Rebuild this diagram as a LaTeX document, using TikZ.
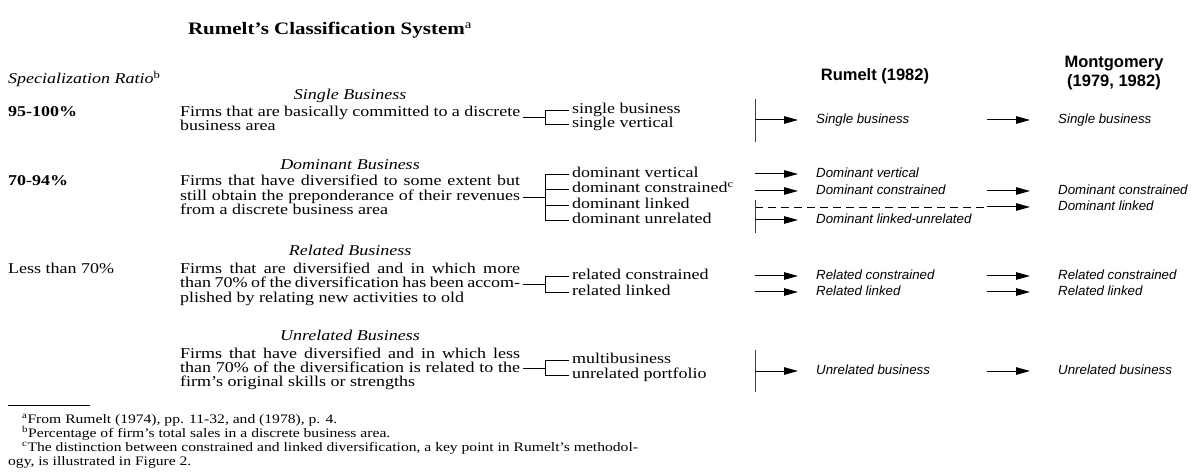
\documentclass[tikz,border=0pt]{standalone}
\usepackage{fontspec}
\setmainfont{Liberation Serif}[FakeStretch=1.2]
\setsansfont{Liberation Sans}
\usetikzlibrary{arrows.meta}

\newcommand{\bodysize}{\fontsize{15}{14.5}\selectfont}
\newcommand{\notesize}{\fontsize{13}{14}\selectfont}
\newcommand{\jline}[1]{\makebox[340pt][s]{#1}}

\begin{document}
\begin{tikzpicture}[x=1pt, y=-1pt,
    txt/.style={inner sep=0pt, anchor=base west, text height=10pt, text depth=3pt, font=\bodysize},
    hd/.style={inner sep=0pt, anchor=base, font=\itshape\bodysize},
    fn/.style={inner sep=0pt, anchor=base west, font=\notesize},
    rtxt/.style={inner sep=0pt, anchor=west, text height=10pt, text depth=3pt, font=\sffamily\itshape\fontsize{13.3}{15}\selectfont},
    col/.style={inner sep=0pt, align=center, font=\sffamily\bfseries\fontsize{16.5}{19}\selectfont},
    brk/.style={line width=0.9pt},
    bar/.style={line width=1pt, black!75},
    arr/.style={line width=1pt, -{Triangle[length=14pt,width=7.5pt]}, shorten >=18pt},
    marr/.style={arr, shorten >=28pt}]

    \useasboundingbox (0,0) rectangle (1195,473);
    \coordinate (brx) at (545,0);

    % Title and column heads
    \node[inner sep=0pt, anchor=base, font=\bfseries\fontsize{17.5}{20}\selectfont] (title) at (330,35) {Rumelt’s Classification System\textsuperscript{\mdseries a}};
    \node[txt, font=\itshape\bodysize] (ratio) at (8,84) {Specialization Ratio\textsuperscript{\upshape b}};
    \node[col] (rhead) at (875,76) {Rumelt (1982)};
    \node[col] (mhead) at (1114,73) {Montgomery\\(1979, 1982)};

    % Single business
    \node[hd] (hsg) at (350,100) {Single Business};
    \node[txt, font=\bfseries\bodysize] (psg) at (8,117) {95-100\%};
    \node[txt] (sg1) at (180,117) {\jline{Firms that are basically committed to a discrete}};
    \node[txt] (sg2) at (180,131) {business area};
    \node[txt] (sb) at (572,113.5) {single business};
    \node[txt] (sv) at (572,127.5) {single vertical};
    \draw[brk] ([xshift=3pt]sg1.base east) -- (sg1.base east -| brx);
    \draw[brk] ([xshift=-3pt]sb.west) -- (sb.west -| brx) -- (sv.west -| brx) -- ([xshift=-3pt]sv.west);

    % Dominant business
    \node[hd] (hdm) at (350,170) {Dominant Business};
    \node[txt, font=\bfseries\bodysize] (pdm) at (8,186) {70-94\%};
    \node[txt] (dm1) at (180,186) {\jline{Firms that have diversified to some extent but}};
    \node[txt] (dm2) at (180,200.5) {\jline{still obtain the preponderance of their revenues}};
    \node[txt] (dm3) at (180,215) {from a discrete business area};
    \node[txt] (dv) at (572,177.5) {dominant vertical};
    \node[txt] (dc) at (572,193) {dominant constrained\textsuperscript{c}};
    \node[txt] (dl) at (572,208.5) {dominant linked};
    \node[txt] (du) at (572,224) {dominant unrelated};
    \draw[brk] ([xshift=3pt]dm2.east) -- (dm2.east -| brx);
    \draw[brk] ([xshift=-3pt]dv.west) -- (dv.west -| brx) -- (du.west -| brx) -- ([xshift=-3pt]du.west);
    \draw[brk] ([xshift=-3pt]dc.west) -- (dc.west -| brx);
    \draw[brk] ([xshift=-3pt]dl.west) -- (dl.west -| brx);

    % Related business
    \node[hd] (hrl) at (350,256) {Related Business};
    \node[txt] (prl) at (8,273.5) {Less than 70\%};
    \node[txt] (rl1) at (180,273.5) {\jline{Firms that are diversified and in which more}};
    \node[txt] (rl2) at (180,288) {\jline{than 70\% of the diversification has been accom-}};
    \node[txt] (rl3) at (180,302.5) {plished by relating new activities to old};
    \node[txt] (rc) at (572,279.5) {related constrained};
    \node[txt] (rk) at (572,295.5) {related linked};
    \draw[brk] ([xshift=3pt]rl2.east) -- (rl2.east -| brx);
    \draw[brk] ([xshift=-3pt]rc.west) -- (rc.west -| brx) -- (rk.west -| brx) -- ([xshift=-3pt]rk.west);

    % Unrelated business
    \node[hd] (hur) at (350,341) {Unrelated Business};
    \node[txt] (ur1) at (180,358) {\jline{Firms that have diversified and in which less}};
    \node[txt] (ur2) at (180,372) {\jline{than 70\% of the diversification is related to the}};
    \node[txt] (ur3) at (180,386) {firm’s original skills or strengths};
    \node[txt] (mb) at (572,363.5) {multibusiness};
    \node[txt] (up) at (572,378.5) {unrelated portfolio};
    \draw[brk] ([xshift=3pt]ur2.east) -- (ur2.east -| brx);
    \draw[brk] ([xshift=-3pt]mb.west) -- (mb.west -| brx) -- (up.west -| brx) -- ([xshift=-3pt]up.west);

    % Rumelt (1982) and Montgomery columns
    \node[rtxt] (rsb) at (816,120) {Single business};
    \node[rtxt] (msb) at (1058,120) {Single business};
    \draw[bar] (755,99) -- (755,142);
    \draw[arr] (755,120) -- (rsb);
    \draw[marr] (987,120) -- (msb);

    \node[rtxt] (rdv) at (816,174) {Dominant vertical};
    \node[rtxt] (rdc) at (816,191) {Dominant constrained};
    \node[rtxt] (mdc) at (1058,191) {Dominant constrained};
    \node[rtxt] (mdl) at (1058,207) {Dominant linked};
    \node[rtxt] (rdu) at (816,220) {Dominant linked-unrelated};
    \draw[arr] (755,174) -- (rdv);
    \draw[arr] (755,191) -- (rdc);
    \draw[marr] (987,191) -- (mdc);
    \draw[line width=0.8pt, dash pattern=on 8pt off 5pt] (755,207) -- (987,207);
    \draw[marr] (987,207) -- (mdl);
    \draw[bar] (755,200) -- (755,233);
    \draw[arr] (755,220) -- (rdu);

    \node[rtxt] (rrc) at (816,276) {Related constrained};
    \node[rtxt] (rrk) at (816,292) {Related linked};
    \node[rtxt] (mrc) at (1058,276) {Related constrained};
    \node[rtxt] (mrk) at (1058,292) {Related linked};
    \draw[arr] (755,276) -- (rrc);
    \draw[arr] (755,292) -- (rrk);
    \draw[marr] (987,276) -- (mrc);
    \draw[marr] (987,292) -- (mrk);

    \node[rtxt] (rub) at (816,371) {Unrelated business};
    \node[rtxt] (mub) at (1058,371) {Unrelated business};
    \draw[bar] (755,350) -- (755,392);
    \draw[arr] (755,371) -- (rub);
    \draw[marr] (987,371) -- (mub);

    % Footnotes
    \draw[line width=0.8pt] (8,405) -- (90,405);
    \node[fn] (fa) at (22,423) {\textsuperscript{a}From Rumelt (1974), pp. 11-32, and (1978), p. 4.};
    \node[fn] (fb) at (22,437) {\textsuperscript{b}Percentage of firm’s total sales in a discrete business area.};
    \node[fn] (fc) at (22,451) {\textsuperscript{c}The distinction between constrained and linked diversification, a key point in Rumelt’s methodol-};
    \node[fn] (fd) at (8,465) {ogy, is illustrated in Figure 2.};

\end{tikzpicture}
\end{document}
